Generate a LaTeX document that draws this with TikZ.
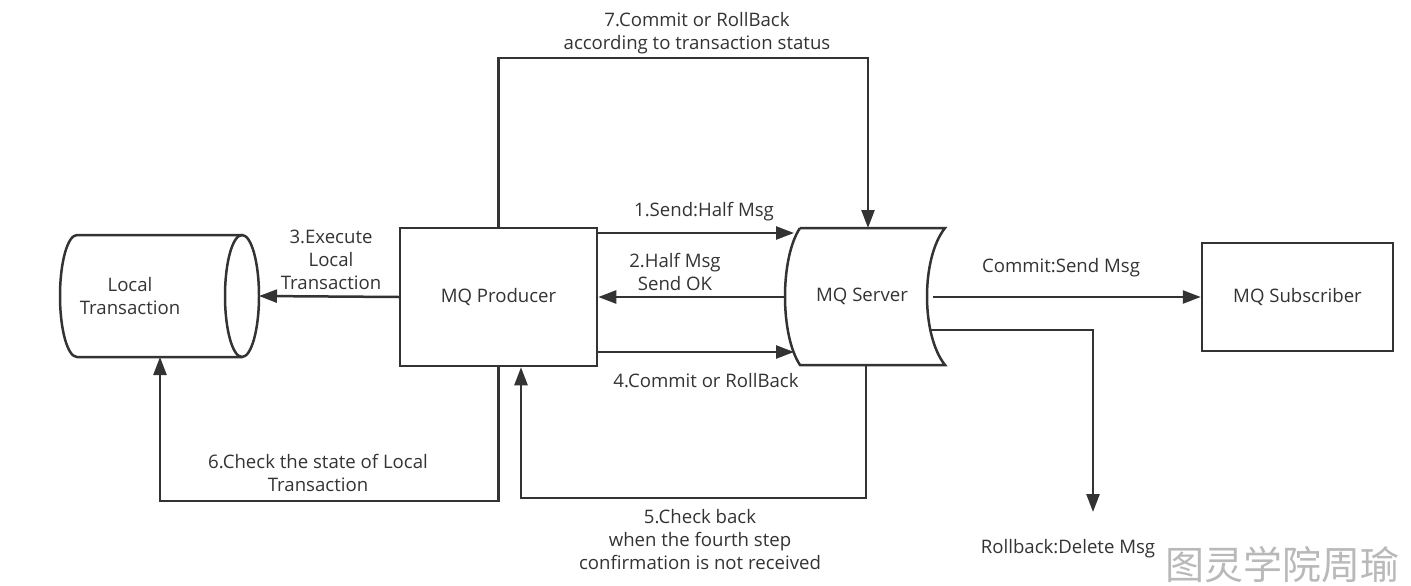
\documentclass[tikz,border=0pt]{standalone}
\usepackage{fontspec}
\setmainfont{Open Sans}
\newfontfamily\cjk{Noto Sans CJK SC}
\usetikzlibrary{arrows.meta}
\definecolor{ink}{HTML}{333333}
\begin{document}
\begin{tikzpicture}[x=0.5pt,y=0.5pt,
  line/.style={draw=ink, line width=1.25pt},
  arr/.style={line, -{Triangle[length=9pt,width=6.5pt]}},
  txt/.style={font=\fontsize{9.3}{11.5}\selectfont, text=ink},
  box/.style={draw=ink, line width=1.25pt, inner sep=0pt, txt},
  lbl/.style={txt, align=center, inner sep=0pt}]
\useasboundingbox (0,0) rectangle (1411,585);

% Local Transaction cylinder
\draw[line] (242,350) -- (77,350)
  arc[start angle=90, end angle=270, x radius=17, y radius=61]
  -- (242,228);
\draw[line] (242,289) ellipse[x radius=17, y radius=61];
\node[lbl] (lt) at (130,289) {Local\\Transaction};
\coordinate (ltE) at (259,289);
\coordinate (ltS) at (160,228);

% MQ Producer
\node[box, minimum width=98.5pt, minimum height=69pt] (prod) at (498.5,288) {MQ Producer};

% MQ Server
\draw[line] (800,357) -- (945,357)
  .. controls (921,327) and (921,250) .. (945,220)
  -- (800,220)
  .. controls (780,250) and (780,327) .. (800,357);
\node[txt, inner sep=0pt] (srv) at (862,288.5) {MQ Server};
\coordinate (sTop) at (868,357);
\coordinate (sBot) at (866,220);
\coordinate (s1) at (794,352);
\coordinate (s2) at (785,288);
\coordinate (s4) at (794,233);
\coordinate (sR) at (933,288);
\coordinate (sR2) at (929,255);

% MQ Subscriber
\node[box, minimum width=95.5pt, minimum height=54pt] (sub) at (1297.5,288) {MQ Subscriber};

% Rollback end
\coordinate (rbEnd) at (1093,73);

% connectors
\draw[arr] (prod.north) -- (prod.north |- 0,527) -| (sTop);
\draw[arr] (prod.east |- s1) -- (s1);
\draw[arr] (s2) -- (prod.east |- s2);
\draw[arr] (prod.east |- s4) -- (s4);
\draw[arr] (prod.west) -- (ltE);
\draw[arr] (prod.south) -- (prod.south |- 0,84) -| (ltS);
\draw[arr] (sBot) -- (sBot |- 0,87) -| (prod.south -| 521,0);
\draw[arr] (sR) -- (sub.west);
\draw[arr] (sR2) -| (rbEnd);

% labels
\node[lbl] (l7) at (697,552) {7.Commit or RollBack\\according to transaction status};
\node[lbl] (l1) at (704,373) {1.Send:Half Msg};
\node[lbl] (l2) at (675,313) {2.Half Msg\\Send OK};
\node[lbl] (l4) at (706,204) {4.Commit or RollBack};
\node[lbl] (l3) at (331,325) {3.Execute\\Local\\Transaction};
\node[lbl] (l6) at (318,112) {6.Check the state of Local\\Transaction};
\node[lbl] (l5) at (700,45) {5.Check back\\when the fourth step\\confirmation is not received};
\node[lbl] (lc) at (1061,317) {Commit:Send Msg};
\node[lbl] (lr) at (1068,36) {Rollback:Delete Msg};

% watermark
\node[inner sep=0pt, text=gray!55, font=\cjk\fontsize{19.5}{20}\selectfont] (wm) at (1282,20) {图灵学院周瑜};
\end{tikzpicture}
\end{document}
